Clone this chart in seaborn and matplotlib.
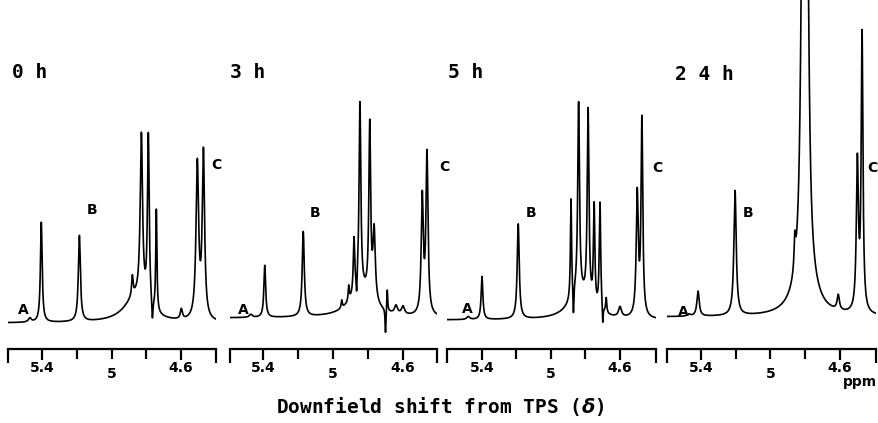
import numpy as np
import pandas as pd
import matplotlib
matplotlib.use("Agg")
import matplotlib.pyplot as plt
import seaborn as sns

# ---------------- data (peak lists) ----------------
panel_labels = ["0 h", "3 h", "5 h", "2 4 h"]

# each peak: position (ppm), height (arbitrary units ~ px), half width (ppm)
p0_pos = [5.47, 5.404, 5.185, 4.86, 4.88, 4.828, 4.788, 4.765, 4.742, 4.598, 4.506, 4.471]
p0_hgt = [4, 100, 86, 25, 20, 165, 170, -22, 102, 10, 155, 165]
p0_wid = [0.01, 0.006, 0.007, 0.08, 0.005, 0.008, 0.006, 0.004, 0.004, 0.007, 0.009, 0.008]

p3_pos = [5.47, 5.39, 5.17, 4.84, 4.95, 4.91, 4.88, 4.865, 4.846, 4.79, 4.765, 4.70, 4.69, 4.64, 4.60, 4.49, 4.463]
p3_hgt = [3, 52, 85, 25, 8, 15, 55, -20, 188, 172, 70, -25, 22, 8, 8, 116, 160]
p3_wid = [0.01, 0.006, 0.007, 0.08, 0.004, 0.004, 0.005, 0.003, 0.006, 0.006, 0.008, 0.003, 0.003, 0.01, 0.01, 0.007, 0.007]

p5_pos = [5.48, 5.40, 5.19, 4.84, 4.884, 4.87, 4.84, 4.785, 4.75, 4.716, 4.70, 4.68, 4.60, 4.50, 4.473]
p5_hgt = [3, 43, 95, 25, 100, -30, 190, 192, 100, 108, -20, 15, 10, 122, 196]
p5_wid = [0.01, 0.006, 0.007, 0.07, 0.004, 0.003, 0.006, 0.006, 0.005, 0.005, 0.003, 0.004, 0.01, 0.007, 0.006]

p24_pos = [5.47, 5.417, 5.204, 4.80, 4.86, 4.815, 4.79, 4.61, 4.50, 4.473]
p24_hgt = [2, 25, 125, 40, 30, 380, 380, 15, 148, 276]
p24_wid = [0.01, 0.008, 0.008, 0.06, 0.005, 0.012, 0.012, 0.008, 0.007, 0.006]

baselines = [-3, 2, 0, 3]

peaks = [(p0_pos, p0_hgt, p0_wid), (p3_pos, p3_hgt, p3_wid),
         (p5_pos, p5_hgt, p5_wid), (p24_pos, p24_hgt, p24_wid)]

major_ticks = [5.4, 4.6]
major_labels = ["5.4", "4.6"]
minor_ticks = [5.2, 5.0, 4.8]
minor_labels = ["", "5", ""]

# ---------------- layout (pixel geometry of the figure) ----------------
W, H = 879, 423
bracket_l = [8, 230, 447, 667]
bracket_r = [216, 437, 656, 876]
tick54_px = [42, 263, 482, 701]
tick46_px = [181, 403, 620, 840]
axis_y = 349
base_y = 320

sns.set_theme(style="white")
plt.rcParams["font.family"] = ["DejaVu Sans"]
plt.rcParams["font.weight"] = "bold"
plt.rcParams["text.color"] = "black"
plt.rcParams["xtick.color"] = "black"
plt.rcParams["axes.labelcolor"] = "black"

fig = plt.figure(figsize=(W / 100, H / 100), dpi=100)

grid = np.linspace(5.65, 4.35, 4000)

letter_pos = [
    [(23, 310), (92, 210), (216, 165)],
    [(243, 310), (315, 213), (444, 167)],
    [(467, 309), (531, 213), (657, 168)],
    [(683, 312), (748, 213), (872, 168)],
]
label_pos = [(12, 72), (230, 72), (448, 72), (675, 75)]

for i in range(4):
    l, r = bracket_l[i], bracket_r[i]
    s = (tick46_px[i] - tick54_px[i]) / 0.8
    x_left = 5.4 + (tick54_px[i] - l) / s
    x_right = 4.6 - (r - tick46_px[i]) / s
    ax = fig.add_axes([l / W, 1 - axis_y / H, (r - l) / W, axis_y / H])

    pos, hgt, wid = peaks[i]
    spec = np.full_like(grid, baselines[i], dtype=float)
    for p, h, w in zip(pos, hgt, wid):
        spec += h / (1 + ((grid - p) / w) ** 2)
    df = pd.DataFrame({"ppm": grid, "intensity": spec})
    sns.lineplot(data=df, x="ppm", y="intensity", ax=ax, color="black",
                 linewidth=1.2, sort=False)

    ax.set_xlim(x_left, x_right)
    ax.set_ylim(-(axis_y - base_y), base_y)
    ax.patch.set_alpha(0)
    for sp in ["top", "left", "right"]:
        ax.spines[sp].set_visible(False)
    ax.spines["bottom"].set_linewidth(1.6)
    ax.spines["bottom"].set_color("black")
    ax.set_yticks([])
    ax.set_xlabel("")
    ax.set_ylabel("")
    ax.set_xticks([x_left] + major_ticks + [x_right], [""] + major_labels + [""])
    ax.set_xticks(minor_ticks, minor_labels, minor=True)
    ax.tick_params(axis="x", which="major", direction="out", length=8, width=1.6,
                   pad=1, labelsize=10, colors="black", bottom=True)
    ax.tick_params(axis="x", which="minor", direction="out", length=7, width=1.6,
                   pad=6, labelsize=10, colors="black", bottom=True)
    for lab in ax.get_xticklabels() + ax.get_xticklabels(minor=True):
        lab.set_fontweight("bold")
    ax.xaxis.get_major_ticks()[0].tick1line.set_markersize(10)
    ax.xaxis.get_major_ticks()[-1].tick1line.set_markersize(10)

    for letter, (px, py) in zip("ABC", letter_pos[i]):
        fig.text(px / W, 1 - py / H, letter, ha="center", va="center",
                 fontsize=10, fontweight="bold", color="black")
    lx, ly = label_pos[i]
    fig.text(lx / W, 1 - ly / H, panel_labels[i], ha="left", va="center",
             fontsize=14, fontweight="bold", family="DejaVu Sans Mono",
             color="black")

fig.text(440 / W, 1 - 406 / H, r"Downfield shift from TPS ($\delta$)", ha="center",
         va="center", fontsize=14, fontweight="bold", family="DejaVu Sans Mono",
         color="black")
fig.text(860 / W, 1 - 382 / H, "ppm", ha="center", va="center",
         fontsize=10, fontweight="bold", color="black")

fig.savefig("out.png", dpi=100, facecolor="white")
